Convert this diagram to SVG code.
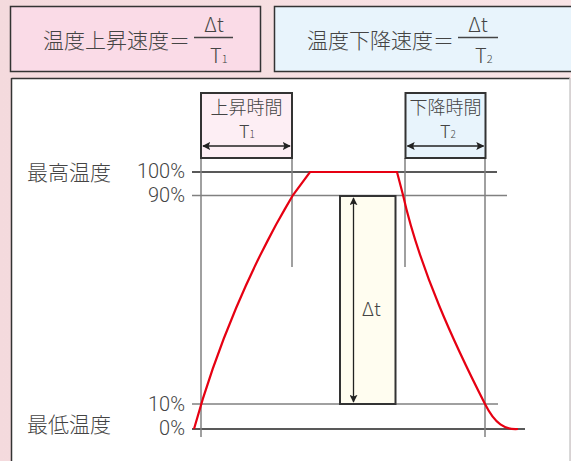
<svg xmlns="http://www.w3.org/2000/svg" width="571" height="461" viewBox="0 0 571 461">
<defs>
<linearGradient id="bg" x1="0" y1="0" x2="1" y2="0">
<stop offset="0" stop-color="#f4dadd"/><stop offset="1" stop-color="#f9e4e6"/>
</linearGradient>
<marker id="ah" viewBox="0 0 10 10" refX="9" refY="5" markerWidth="8" markerHeight="8" markerUnits="userSpaceOnUse" orient="auto-start-reverse">
<path d="M0,0 L10,5 L0,10 L2,5 Z" fill="#222"/>
</marker>
<style>
text{font-family:"Noto Sans CJK JP","Noto Sans",sans-serif;fill:#444;font-weight:300}
.box{stroke:#333;stroke-width:2}
.grid{stroke:#808080;stroke-width:1.5;fill:none}
.dark{stroke:#222;stroke-width:1.3;fill:none}
.arr{stroke:#222;stroke-width:1.3;fill:none;marker-start:url(#ah);marker-end:url(#ah)}
.lbl{font-family:Roboto,"Noto Sans",sans-serif;font-size:20px;text-anchor:end}
</style>
</defs>
<rect width="571" height="461" fill="url(#bg)"/>
<g id="formula1">
<rect x="10.5" y="6.5" width="250" height="65" fill="#fadbe7" stroke="#333" stroke-width="1.5"/>
<text x="43" y="48" font-size="21">温度上昇速度＝</text>
<text x="214" y="32" font-size="20" text-anchor="middle">Δt</text>
<line x1="194" y1="37.5" x2="233" y2="37.5" stroke="#444" stroke-width="1.3"/>
<text x="210" y="63" font-size="20">T<tspan font-size="11">1</tspan></text>
</g>
<g id="formula2">
<rect x="274.5" y="6.5" width="310" height="65" fill="#e8f4fc" stroke="#333" stroke-width="1.5"/>
<text x="307" y="48" font-size="21">温度下降速度＝</text>
<text x="478" y="32" font-size="20" text-anchor="middle">Δt</text>
<line x1="458" y1="37.5" x2="498" y2="37.5" stroke="#444" stroke-width="1.3"/>
<text x="475" y="63" font-size="20">T<tspan font-size="11">2</tspan></text>
</g>
<g id="panel">
<rect x="11" y="78" width="559" height="390" fill="#fff"/>
<line x1="11.5" y1="78.5" x2="570" y2="78.5" stroke="#333" stroke-width="1.5"/>
<line x1="11.5" y1="78" x2="11.5" y2="461" stroke="#333" stroke-width="1.5"/>
<line x1="570" y1="78" x2="570" y2="461" stroke="#ccc" stroke-width="1.5"/>
</g>
<g id="connectors">
<line class="dark" x1="192" y1="172" x2="497" y2="172"/>
<line class="grid" x1="192" y1="195.5" x2="507" y2="195.5"/>
<line class="grid" x1="192" y1="404" x2="498" y2="404"/>
<line class="dark" x1="192" y1="429" x2="525" y2="429"/>
<line class="grid" x1="201" y1="158" x2="201" y2="437"/>
<line class="grid" x1="292" y1="158" x2="292" y2="267"/>
<line class="grid" x1="405" y1="158" x2="405" y2="267"/>
<line class="grid" x1="485" y1="158" x2="485" y2="437"/>
</g>
<g id="rise-box">
<rect class="box" x="201" y="93" width="91" height="65" fill="#fdeef4"/>
<text x="246.5" y="114" font-size="18" text-anchor="middle">上昇時間</text>
<text x="239" y="138" font-size="18">T<tspan font-size="10">1</tspan></text>
<line class="arr" x1="203" y1="146" x2="290" y2="146"/>
</g>
<g id="fall-box">
<rect class="box" x="405.5" y="93" width="80" height="65" fill="#e8f4fc"/>
<text x="445.5" y="114" font-size="18" text-anchor="middle">下降時間</text>
<text x="440" y="138" font-size="18">T<tspan font-size="10">2</tspan></text>
<line class="arr" x1="407.5" y1="146" x2="483.5" y2="146"/>
</g>
<g id="delta-box">
<rect class="box" x="340" y="196" width="55.5" height="208" fill="#fffdf0"/>
<line class="arr" x1="353.5" y1="198" x2="353.5" y2="402"/>
<text x="362" y="316" font-size="19">Δt</text>
</g>
<g id="labels">
<text x="27" y="180" font-size="21">最高温度</text>
<text x="27" y="432" font-size="21">最低温度</text>
<text class="lbl" x="185" y="178">100%</text>
<text class="lbl" x="185" y="202">90%</text>
<text class="lbl" x="185" y="411">10%</text>
<text class="lbl" x="185" y="435">0%</text>
</g>
<g id="curve">
<path d="M194,429 C216,349 251,265 293,195 L310,172 L397,172 L403,195 C420,270 455,345 485,404 C495,424 505,430 518,429" fill="none" stroke="#e60012" stroke-width="2.2"/>
</g>
</svg>
